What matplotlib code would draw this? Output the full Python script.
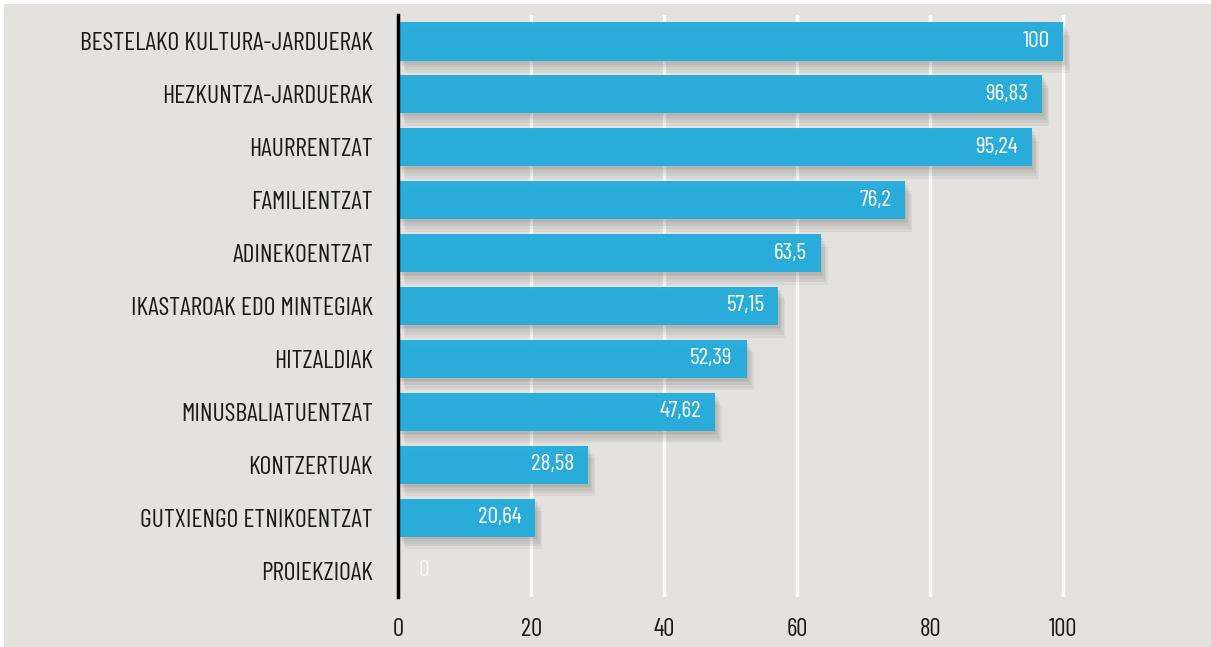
import matplotlib.pyplot as plt
import matplotlib.patheffects as pe
from matplotlib.patches import Rectangle

categories = [
    "BESTELAKO KULTURA-JARDUERAK",
    "HEZKUNTZA-JARDUERAK",
    "HAURRENTZAT",
    "FAMILIENTZAT",
    "ADINEKOENTZAT",
    "IKASTAROAK EDO MINTEGIAK",
    "HITZALDIAK",
    "MINUSBALIATUENTZAT",
    "KONTZERTUAK",
    "GUTXIENGO ETNIKOENTZAT",
    "PROIEKZIOAK",
]
values = [100, 96.83, 95.24, 76.2, 63.5, 57.15, 52.39, 47.62, 28.58, 20.64, 0]
ticks = [0, 20, 40, 60, 80, 100]

bg = "#e3e2de"
bar_color = "#25acdc"

plt.rcParams["font.family"] = ["Barlow Condensed", "Roboto Condensed", "DejaVu Sans"]

fig = plt.figure(figsize=(12.11, 6.47), dpi=100, facecolor="white")
fig.patches.append(Rectangle((4 / 1211, 0), 1, 1 - 4 / 647, transform=fig.transFigure,
                             facecolor=bg, edgecolor="none", zorder=-10))

ax = fig.add_axes([398 / 1211, 50 / 647, 732 / 1211, 582 / 647])
ax.set_facecolor("none")

pos = list(range(len(categories)))
bars = ax.barh(pos, values, height=0.72, color=bar_color, alpha=0.97, zorder=3)
# soft drop shadow built from a few stacked offsets
shadow = [pe.SimplePatchShadow(offset=(dx, dy), shadow_rgbFace="#6e6c66", alpha=0.09)
          for dx, dy in [(1, -2), (2, -3), (3, -5), (4, -7), (5, -9)]]
for b in bars:
    b.set_path_effects(shadow + [pe.Normal()])

for p, v in zip(pos, values):
    txt = f"{v:g}".replace(".", ",")
    if v > 0:
        ax.annotate(txt, (v, p), xytext=(-10, 0), textcoords="offset points",
                    ha="right", va="center", color="white", fontsize=17, zorder=5)
    else:
        ax.annotate(txt, (0, p), xytext=(15, 0), textcoords="offset points",
                    ha="left", va="center", color="white", alpha=0.85, fontsize=17, zorder=5)

ax.set_xlim(0, 110)
ax.set_ylim(10.5, -0.5)
ax.set_yticks(pos)
ax.set_yticklabels(categories, fontsize=18.5, color="#1a1a1a")
ax.set_xticks(ticks)
ax.set_xticklabels([str(t) for t in ticks], fontsize=18, color="#1a1a1a")
ax.tick_params(axis="both", length=0)
ax.tick_params(axis="y", pad=18)
ax.tick_params(axis="x", pad=15)

for t in ticks[1:]:
    ax.axvline(t, color="white", lw=2.5, zorder=1)

for s in ["top", "right", "bottom"]:
    ax.spines[s].set_visible(False)
ax.spines["left"].set_linewidth(2.5)
ax.spines["left"].set_color("black")
ax.spines["left"].set_zorder(6)

fig.savefig("out.png", dpi=100, facecolor=fig.get_facecolor())
